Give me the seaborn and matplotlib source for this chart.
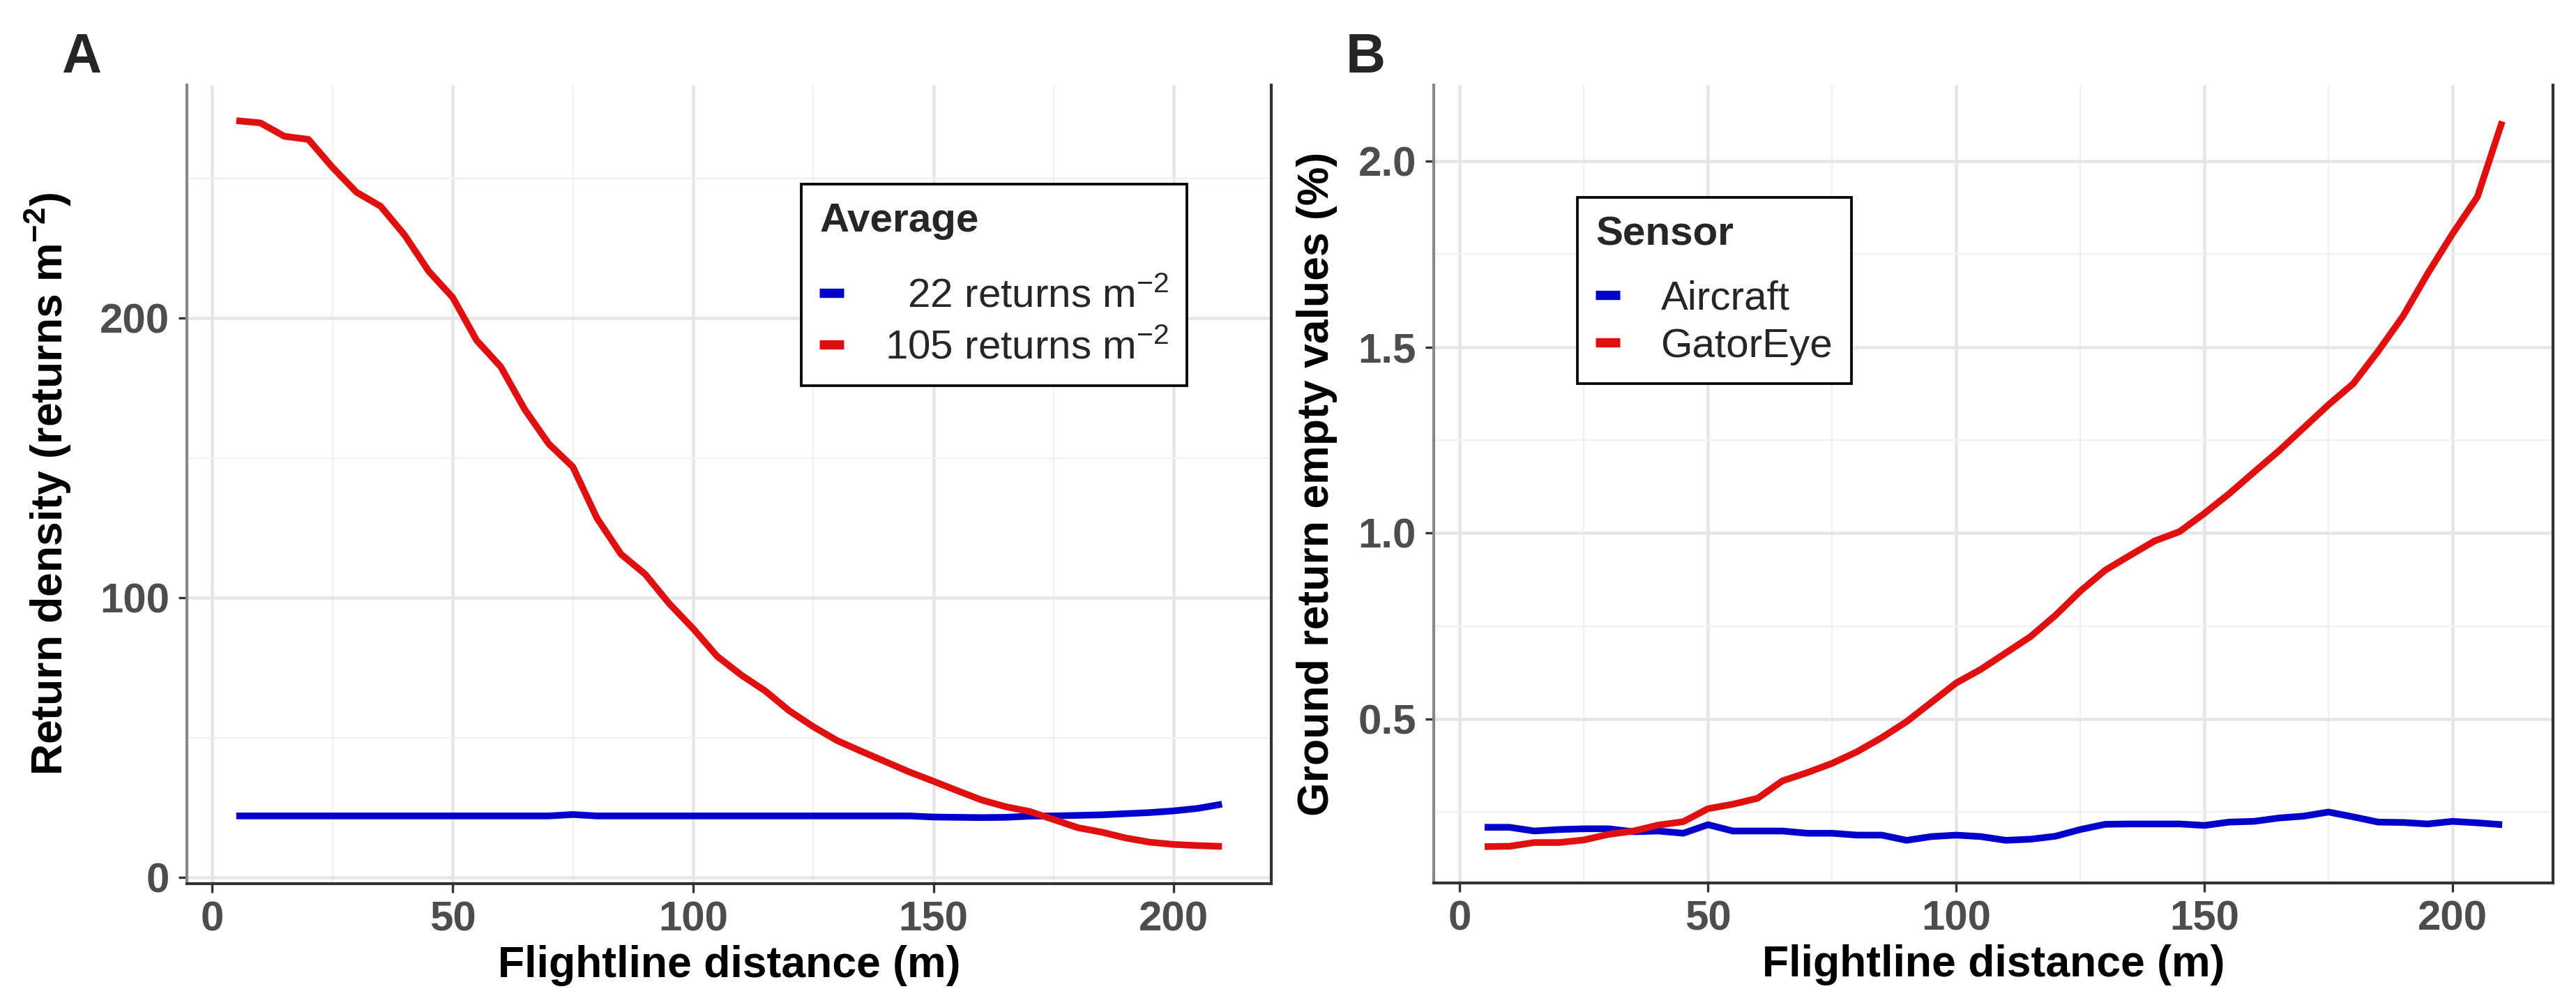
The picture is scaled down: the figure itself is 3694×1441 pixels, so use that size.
import pandas as pd
import seaborn as sns
import matplotlib.pyplot as plt
from matplotlib.ticker import MultipleLocator, FormatStrFormatter

# Distance along the flightline (m)
distance = [5, 10, 15, 20, 25, 30, 35, 40, 45, 50, 55, 60, 65, 70,
            75, 80, 85, 90, 95, 100, 105, 110, 115, 120, 125, 130, 135, 140,
            145, 150, 155, 160, 165, 170, 175, 180, 185, 190, 195, 200, 205, 210]

# Panel A: return density (returns m-2)
density_aircraft = [22.0, 22.0, 22.0, 22.0, 22.0, 22.0, 22.0, 22.0, 22.0, 22.0, 22.0, 22.0, 22.0, 22.0,
                    22.5, 22.0, 22.0, 22.0, 22.0, 22.0, 22.0, 22.0, 22.0, 22.0, 22.0, 22.0, 22.0, 22.0,
                    22.0, 21.6, 21.5, 21.4, 21.5, 21.9, 22.0, 22.2, 22.4, 22.8, 23.2, 23.8, 24.7, 26.2]
density_gatoreye = [270.6, 269.8, 265.0, 263.9, 253.9, 245.0, 240.0, 229.7, 216.8, 207.4, 192.0, 182.6, 167.3, 155.0,
                    146.8, 128.5, 115.6, 108.5, 98.0, 89.0, 79.1, 72.4, 66.7, 59.6, 53.9, 48.9, 45.1, 41.4,
                    37.7, 34.4, 31.0, 27.7, 25.3, 23.6, 20.7, 17.8, 16.2, 14.1, 12.6, 11.8, 11.4, 11.1]

# Panel B: ground return empty values (%)
empty_aircraft = [0.209, 0.209, 0.199, 0.203, 0.205, 0.205, 0.197, 0.199, 0.193, 0.216, 0.199, 0.199, 0.199, 0.193,
                  0.193, 0.188, 0.188, 0.174, 0.184, 0.188, 0.184, 0.174, 0.177, 0.185, 0.203, 0.217, 0.218, 0.218,
                  0.218, 0.214, 0.223, 0.225, 0.234, 0.239, 0.250, 0.237, 0.223, 0.222, 0.218, 0.225, 0.221, 0.216]
empty_gatoreye = [0.157, 0.158, 0.168, 0.168, 0.175, 0.190, 0.199, 0.215, 0.224, 0.259, 0.271, 0.287, 0.334, 0.356,
                  0.381, 0.412, 0.450, 0.493, 0.545, 0.597, 0.634, 0.678, 0.722, 0.779, 0.844, 0.900, 0.940, 0.979,
                  1.004, 1.053, 1.106, 1.164, 1.221, 1.283, 1.345, 1.402, 1.489, 1.583, 1.698, 1.805, 1.904, 2.107]

avg_labels = ['  22 returns m$^{-2}$', '105 returns m$^{-2}$']
sensor_labels = ['Aircraft', 'GatorEye']
colors = ['#0000CD', '#E01010']

sns.set_theme(style='white')
plt.rcParams['font.family'] = ['Liberation Sans', 'DejaVu Sans']
plt.rcParams['mathtext.default'] = 'regular'

df_a = pd.DataFrame({
    'dist': distance * 2,
    'val': density_aircraft + density_gatoreye,
    'grp': [avg_labels[0]] * len(distance) + [avg_labels[1]] * len(distance),
})
df_b = pd.DataFrame({
    'dist': distance * 2,
    'val': empty_aircraft + empty_gatoreye,
    'grp': [sensor_labels[0]] * len(distance) + [sensor_labels[1]] * len(distance),
})

fig = plt.figure(figsize=(3694 / 300, 1441 / 300), dpi=300)
ax1 = fig.add_axes([0.0726, 0.1208, 0.4209, 0.7945])
ax2 = fig.add_axes([0.5566, 0.1215, 0.4345, 0.7938])

tick_col = '#4D4D4D'


def style_axes(ax, ylab, label_x):
    ax.xaxis.set_major_locator(MultipleLocator(50))
    ax.xaxis.set_minor_locator(MultipleLocator(25))
    ax.grid(which='major', color='#E6E6E6', lw=1.1)
    ax.grid(which='minor', color='#F0F0F0', lw=0.55)
    ax.set_axisbelow(True)
    for side in ['left', 'bottom', 'right']:
        ax.spines[side].set_visible(True)
        ax.spines[side].set_color('#333333')
        ax.spines[side].set_linewidth(1.0)
    ax.spines['top'].set_visible(False)
    ax.spines['left'].set_color('#888888')
    ax.tick_params(which='major', length=3, width=0.8, color='#333333', pad=3,
                   labelsize=14.4, labelcolor=tick_col, left=True, bottom=True)
    ax.tick_params(which='minor', length=0)
    for lab in ax.get_xticklabels() + ax.get_yticklabels():
        lab.set_fontweight('bold')
    ax.set_xlabel('Flightline distance (m)', fontsize=15, fontweight='bold', color='black', labelpad=2)
    ax.set_ylabel(ylab, fontsize=15, fontweight='bold', color='black')
    ax.yaxis.set_label_coords(label_x, 0.5)


def style_legend(ax, title, anchor, spacing, sep):
    handles, labels = ax.get_legend_handles_labels()
    leg = ax.legend(handles, labels, title=title, loc='upper left', bbox_to_anchor=anchor,
                    borderaxespad=0, fontsize=14, title_fontsize=14, handlelength=0.6,
                    handletextpad=1.0, labelspacing=spacing, borderpad=0.45, fancybox=False,
                    framealpha=1, edgecolor='black', alignment='left')
    leg.get_frame().set_linewidth(0.9)
    leg.get_title().set_fontweight('bold')
    leg._legend_box.sep = sep
    for h in leg.legend_handles:
        h.set_linewidth(3.2)


# Panel A
sns.lineplot(data=df_a, x='dist', y='val', hue='grp', palette=colors, lw=2.3,
             ax=ax1, solid_capstyle='butt')
ax1.set_xlim(-5.25, 220.25)
ax1.set_ylim(-2.2, 283.3)
ax1.yaxis.set_major_locator(MultipleLocator(100))
ax1.yaxis.set_minor_locator(MultipleLocator(50))
style_axes(ax1, 'Return density (returns m$^{-2}$)', -0.105)
style_legend(ax1, 'Average', (0.5666, 0.876), 0.35, 13)

# Panel B
sns.lineplot(data=df_b, x='dist', y='val', hue='grp', palette=colors, lw=2.3,
             ax=ax2, solid_capstyle='butt')
ax2.set_xlim(-5.25, 220.25)
ax2.set_ylim(0.0595, 2.2045)
ax2.yaxis.set_major_locator(MultipleLocator(0.5))
ax2.yaxis.set_minor_locator(MultipleLocator(0.25))
ax2.yaxis.set_major_formatter(FormatStrFormatter('%.1f'))
style_axes(ax2, 'Ground return empty values (%)', -0.086)
style_legend(ax2, 'Sensor', (0.1283, 0.859), 0.25, 9)

fig.text(0.0238, 0.968, 'A', fontsize=19, fontweight='bold', va='top', ha='left')
fig.text(0.5225, 0.968, 'B', fontsize=19, fontweight='bold', va='top', ha='left')

fig.savefig('out.png', dpi=300, facecolor='white')
